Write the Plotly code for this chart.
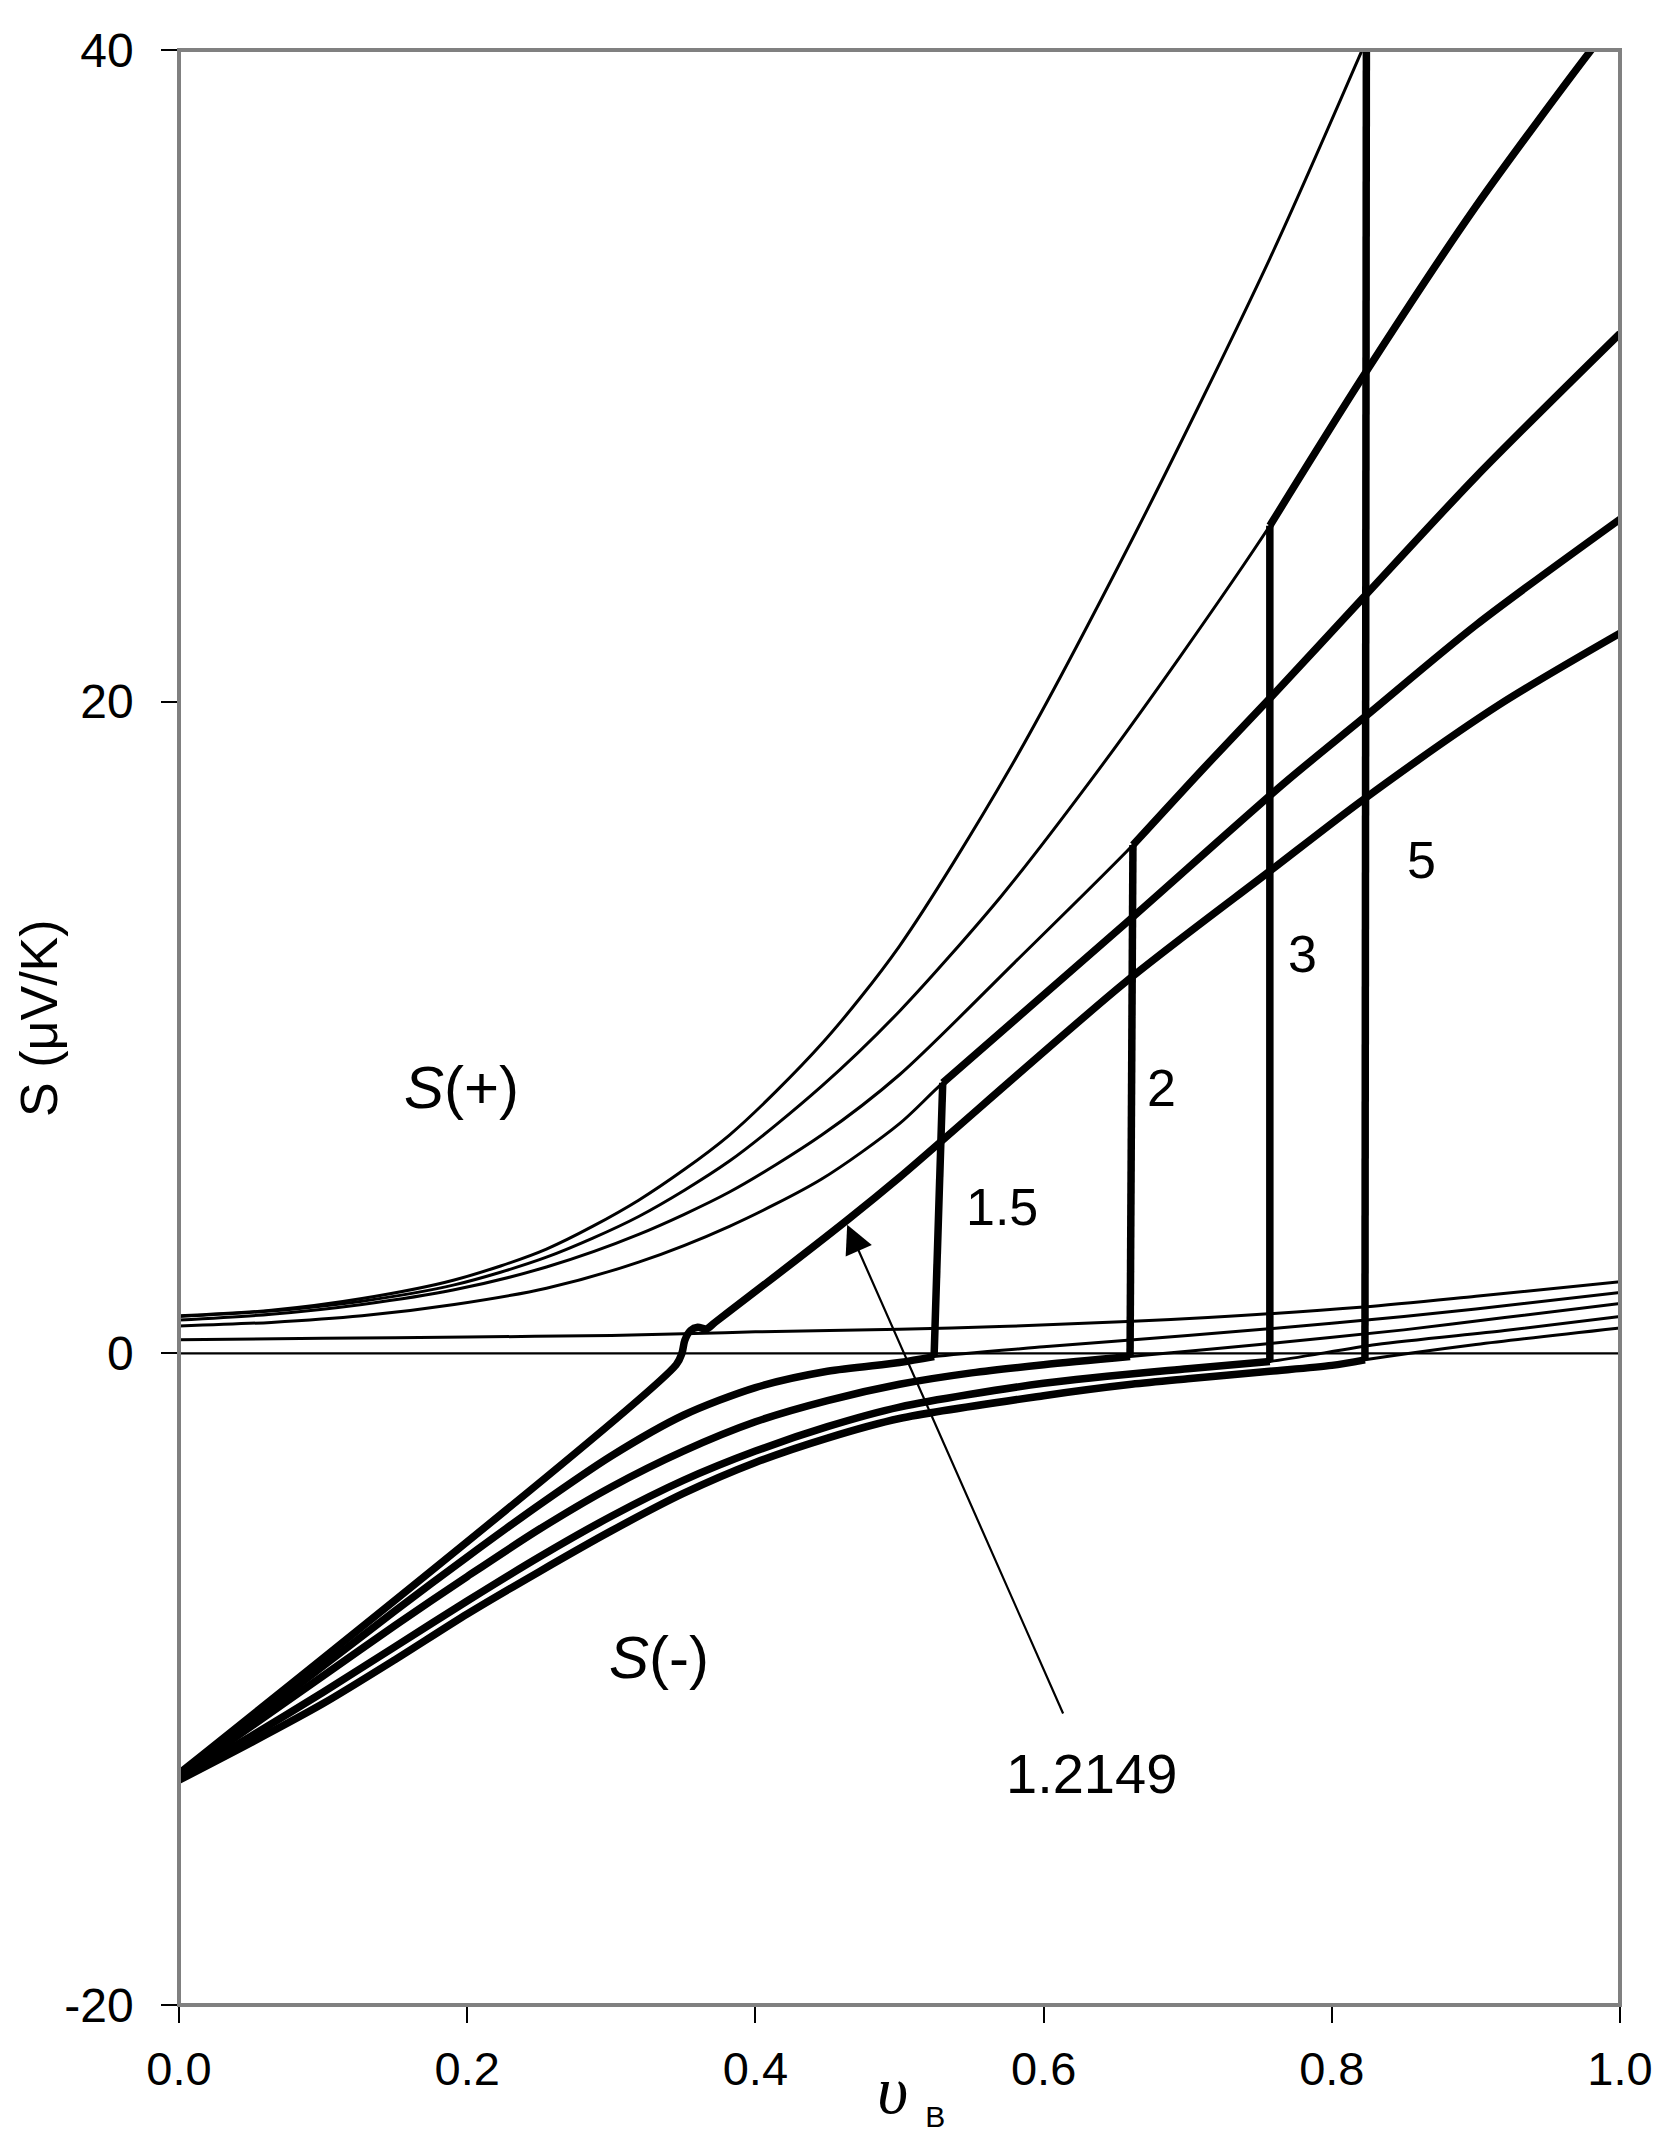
import plotly.graph_objects as go

# upper branch S(+) for each parameter value (thin before the jump)
up_5_x = [0, 0.064, 0.127, 0.191, 0.255, 0.319, 0.382, 0.446, 0.5, 0.576, 0.664, 0.757, 0.824]
up_5_y = [1.15, 1.32, 1.68, 2.25, 3.2, 4.7, 6.7, 9.5, 12.5, 17.9, 25.2, 33.6, 40.3]

up_3_x = [0, 0.064, 0.127, 0.191, 0.255, 0.319, 0.382, 0.446, 0.5, 0.57, 0.633, 0.695, 0.757, 0.822, 0.9, 0.98, 1.0]
up_3_y = [1.13, 1.3, 1.6, 2.1, 2.95, 4.2, 5.9, 8.2, 10.5, 14.0, 17.6, 21.4, 25.4, 30.0, 35.2, 40.0, 41.1]

up_2_x = [0, 0.064, 0.127, 0.191, 0.255, 0.319, 0.382, 0.446, 0.5, 0.58, 0.662, 0.712, 0.757, 0.822, 0.9, 1.0]
up_2_y = [1.02, 1.2, 1.5, 1.95, 2.65, 3.65, 4.95, 6.7, 8.55, 12.0, 15.6, 18.0, 20.1, 23.2, 26.9, 31.3]

up_15_x = [0, 0.064, 0.127, 0.191, 0.255, 0.319, 0.382, 0.446, 0.5, 0.53, 0.657, 0.767, 0.822, 0.9, 1.0]
up_15_y = [0.84, 0.95, 1.15, 1.5, 2.0, 2.8, 3.9, 5.35, 7.05, 8.3, 13.2, 17.5, 19.5, 22.35, 25.6]

# lower branch S(-) for each parameter value (thin after the jump)
lo_15_x = [0, 0.05, 0.1, 0.15, 0.2, 0.25, 0.3, 0.35, 0.4, 0.45, 0.5, 0.524, 0.6, 0.7, 0.8, 0.9, 1.0]
lo_15_y = [-13.0, -11.3, -9.6, -7.9, -6.25, -4.65, -3.15, -1.9, -1.05, -0.55, -0.28, -0.1, 0.2, 0.55, 0.92, 1.36, 1.87]

lo_2_x = [0, 0.05, 0.1, 0.15, 0.2, 0.25, 0.3, 0.35, 0.4, 0.45, 0.5, 0.55, 0.6, 0.66, 0.75, 0.85, 0.92, 1.0]
lo_2_y = [-13.0, -11.45, -9.9, -8.35, -6.85, -5.4, -4.1, -3.0, -2.1, -1.45, -0.95, -0.6, -0.35, -0.1, 0.27, 0.72, 1.1, 1.53]

lo_3_x = [0, 0.05, 0.1, 0.15, 0.2, 0.25, 0.3, 0.35, 0.4, 0.45, 0.5, 0.6, 0.7, 0.757, 0.831, 0.92, 1.0]
lo_3_y = [-13.05, -11.75, -10.4, -9.0, -7.6, -6.25, -5.0, -3.9, -3.0, -2.25, -1.65, -0.92, -0.47, -0.25, 0.27, 0.7, 1.13]

lo_5_x = [0, 0.05, 0.1, 0.15, 0.2, 0.25, 0.3, 0.35, 0.4, 0.45, 0.5, 0.6, 0.661, 0.7, 0.757, 0.8, 0.823, 0.9, 1.0]
lo_5_y = [-13.1, -11.95, -10.75, -9.4, -8.0, -6.7, -5.45, -4.3, -3.35, -2.6, -2.0, -1.3, -0.95, -0.78, -0.55, -0.37, -0.2, 0.27, 0.78]

# critical value 1.2149: thin branch and thick path through the crossing
crit_thin_x = [0, 0.1, 0.2, 0.3, 0.35, 0.4, 0.5, 0.575, 0.658, 0.714, 0.822, 0.9, 1.0]
crit_thin_y = [0.42, 0.46, 0.5, 0.55, 0.6, 0.66, 0.74, 0.83, 0.98, 1.1, 1.42, 1.75, 2.2]
crit_thick_x = [0, 0.345, 0.349, 0.351, 0.355, 0.36, 0.366, 0.372, 0.464, 0.5, 0.657, 0.757, 0.822, 0.916, 1.0]
crit_thick_y = [-12.9, -0.35, 0.0, 0.4, 0.7, 0.8, 0.75, 0.95, 4.1, 5.4, 11.4, 14.8, 17.0, 19.9, 22.1]

# jump positions (bottom x on S(-), top x on S(+))
jump_bottom = {"1.5": 0.524, "2": 0.66, "3": 0.757, "5": 0.823}
jump_top = {"1.5": 0.53, "2": 0.662, "3": 0.757, "5": 0.824}

zero_x = [0, 1]
zero_y = [0, 0]

y_ticks = [-20, 0, 20, 40]
y_ticktext = ["-20", "0", "20", "40"]
x_ticks = [0, 0.2, 0.4, 0.6, 0.8, 1.0]

branches = {
    "1.5": (lo_15_x, lo_15_y, up_15_x, up_15_y),
    "2": (lo_2_x, lo_2_y, up_2_x, up_2_y),
    "3": (lo_3_x, lo_3_y, up_3_x, up_3_y),
    "5": (lo_5_x, lo_5_y, up_5_x, up_5_y),
}

THIN = 3.0
THICK = 7.5
FONT = "Arial, Liberation Sans, sans-serif"

fig = go.Figure()


def add_line(x, y, w, shape="linear"):
    fig.add_trace(go.Scatter(x=x, y=y, mode="lines",
                             line=dict(color="black", width=w, shape=shape, smoothing=0.8),
                             showlegend=False, hoverinfo="skip"))


add_line(zero_x, zero_y, 2.2)
add_line(crit_thin_x, crit_thin_y, THIN, "spline")
for key, (xm, ym, xp, yp) in branches.items():
    add_line(xm, ym, THIN, "spline")
    add_line(xp, yp, THIN, "spline")

# thick: S(-) up to the jump, vertical jump, then S(+)
for key, (xm, ym, xp, yp) in branches.items():
    lx = [a for a in xm if a <= jump_bottom[key]]
    ly = [b for a, b in zip(xm, ym) if a <= jump_bottom[key]]
    ux = [a for a in xp if a >= jump_top[key]]
    uy = [b for a, b in zip(xp, yp) if a >= jump_top[key]]
    add_line(lx, ly, THICK, "spline")
    add_line([lx[-1], ux[0]], [ly[-1], uy[0]], THICK)
    if len(ux) > 1:
        add_line(ux, uy, THICK, "spline")
add_line(crit_thick_x, crit_thick_y, THICK, "spline")

# plot area frame
fig.add_shape(type="rect", xref="paper", yref="paper", x0=0, y0=0, x1=1, y1=1,
              line=dict(color="#808080", width=4), layer="above")

labels = [
    (0.571, 4.5, "1.5"), (0.682, 8.15, "2"), (0.780, 12.25, "3"), (0.862, 15.15, "5"),
]
for x, y, t in labels:
    fig.add_annotation(x=x, y=y, text=t, showarrow=False, xanchor="center", yanchor="middle",
                       font=dict(size=52, color="black", family=FONT))

fig.add_annotation(x=0.196, y=8.15, text="<i>S</i>(+)", showarrow=False, xanchor="center",
                   font=dict(size=60, color="black", family=FONT))
fig.add_annotation(x=0.333, y=-9.35, text="<i>S</i>(-)", showarrow=False, xanchor="center",
                   font=dict(size=60, color="black", family=FONT))
fig.add_annotation(x=0.633, y=-12.9, text="1.2149", showarrow=False, xanchor="center",
                   font=dict(size=56, color="black", family=FONT))
fig.add_annotation(x=0.4637, y=3.95, ax=0.614, ay=-11.1, axref="x", ayref="y", xref="x", yref="y",
                   text="", showarrow=True, arrowhead=2, arrowsize=2.6, arrowwidth=2.2,
                   arrowcolor="black")

fig.add_annotation(xref="paper", yref="paper", x=0.508, y=-0.045, xanchor="center", yanchor="middle",
                   text="<i>υ</i> <sub><span style='font-family:Arial, Liberation Sans;font-size:30px'>B</span></sub>",
                   showarrow=False,
                   font=dict(size=68, color="black", family="Liberation Serif, Times New Roman, serif"))
fig.add_annotation(xref="paper", yref="paper", x=-0.097, y=0.505, xanchor="center", yanchor="middle",
                   textangle=-90, text="S (μV/K)", showarrow=False,
                   font=dict(size=52, color="black", family=FONT))

fig.update_xaxes(range=[0, 1], tickvals=x_ticks, tickformat=".1f", automargin=False,
                 showgrid=False, zeroline=False, showline=True, linecolor="black", linewidth=1.5,
                 ticks="outside", ticklen=16, tickwidth=1.5, tickcolor="black",
                 tickfont=dict(size=47, color="black", family=FONT), ticklabelstandoff=6)
fig.update_yaxes(range=[-20, 40], tickvals=y_ticks, ticktext=y_ticktext, automargin=False,
                 showgrid=False, zeroline=False, showline=True, linecolor="black", linewidth=1.5,
                 ticks="outside", ticklen=16, tickwidth=1.5, tickcolor="black",
                 tickfont=dict(size=48, color="black", family=FONT), ticklabelstandoff=18)
fig.update_layout(width=1665, height=2151, margin=dict(l=171, r=53, t=42, b=154),
                  paper_bgcolor="white", plot_bgcolor="white", showlegend=False)

fig.write_html("out.html")
